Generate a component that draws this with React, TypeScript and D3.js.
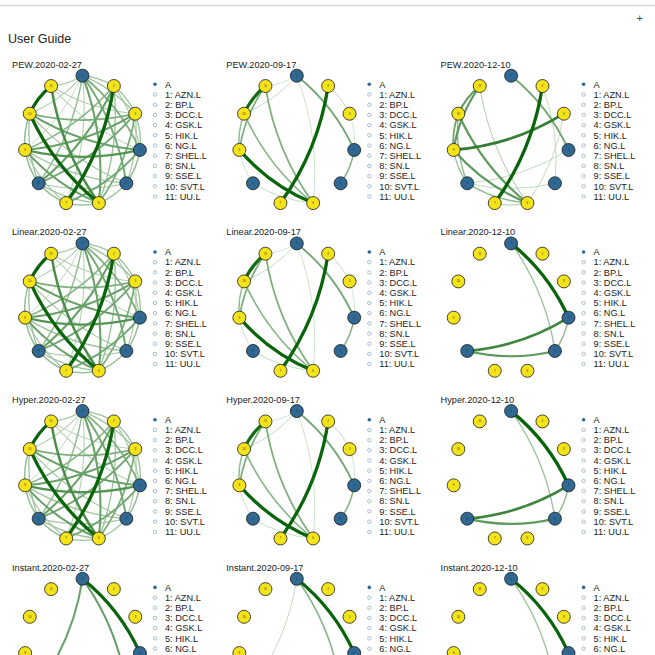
import React from "react";
import * as d3 from "d3";

// ---------- data ----------
const NODE_NAMES = ["AZN.L", "BP.L", "DCC.L", "GSK.L", "HIK.L", "NG.L", "SHEL.L", "SN.L", "SSE.L", "SVT.L", "UU.L"];
const GROUP_A = [1, 4, 5, 8];
const LEGEND_GROUP = "A";

const PANEL_TITLES = [
  "PEW.2020-02-27", "PEW.2020-09-17", "PEW.2020-12-10",
  "Linear.2020-02-27", "Linear.2020-09-17", "Linear.2020-12-10",
  "Hyper.2020-02-27", "Hyper.2020-09-17", "Hyper.2020-12-10",
  "Instant.2020-02-27", "Instant.2020-09-17", "Instant.2020-12-10",
];

type Edge = [number, number, number];

const EDGES_DENSE: Edge[] = [
  [11, 10, 1.0], [10, 6, 1.0], [2, 7, 1.0], [11, 6, 0.7], [9, 4, 0.65], [10, 4, 0.55],
  [9, 3, 0.55], [1, 6, 0.55], [1, 5, 0.5], [2, 8, 0.55], [3, 8, 0.5], [9, 6, 0.55],
  [4, 7, 0.5], [3, 6, 0.45], [3, 10, 0.45], [1, 4, 0.45], [2, 9, 0.4], [1, 8, 0.35],
  [2, 6, 0.3], [1, 2, 0.3], [1, 3, 0.3], [1, 11, 0.25], [2, 3, 0.3], [3, 4, 0.3],
  [4, 5, 0.35], [5, 6, 0.3], [6, 7, 0.3], [7, 8, 0.35], [8, 9, 0.35], [9, 10, 0.35],
  [10, 8, 0.3], [5, 9, 0.3], [5, 10, 0.25], [4, 11, 0.2], [3, 11, 0.2], [1, 7, 0.2],
  [1, 9, 0.15], [1, 10, 0.2], [7, 9, 0.25], [6, 8, 0.3], [5, 8, 0.25], [3, 5, 0.25], [2, 4, 0.25],
];
const EDGES_SEP: Edge[] = [
  [2, 7, 1.0], [9, 6, 1.0], [11, 10, 0.95], [1, 4, 0.5], [4, 5, 0.4], [11, 6, 0.45],
  [10, 6, 0.4], [11, 9, 0.45], [10, 9, 0.35], [1, 10, 0.15], [1, 6, 0.12], [2, 3, 0.15],
  [8, 6, 0.15], [9, 8, 0.12], [3, 4, 0.1], [1, 11, 0.1],
];
const EDGES_PEW_DEC: Edge[] = [
  [2, 7, 1.0], [9, 3, 0.8], [11, 10, 0.6], [11, 9, 0.6], [10, 9, 0.5], [10, 8, 0.35],
  [10, 6, 0.6], [9, 6, 0.6], [1, 4, 0.5], [11, 6, 0.2], [8, 4, 0.15], [8, 6, 0.35],
  [2, 5, 0.15], [3, 6, 0.15], [8, 5, 0.15], [9, 8, 0.3], [7, 6, 0.2],
];
const EDGES_DEC: Edge[] = [[1, 4, 1.0], [1, 5, 0.3], [8, 4, 0.75], [8, 5, 0.6], [4, 5, 0.35]];
const EDGES_INST_FEB: Edge[] = [[1, 4, 1.0], [1, 8, 0.55], [1, 5, 0.55]];
const EDGES_INST_SEP: Edge[] = [[1, 4, 1.0], [1, 5, 0.4], [1, 8, 0.15]];
const EDGES_INST_DEC: Edge[] = [[1, 4, 1.0], [1, 5, 0.3]];

const PANEL_EDGES: Edge[][] = [
  EDGES_DENSE, EDGES_SEP, EDGES_PEW_DEC,
  EDGES_DENSE, EDGES_SEP, EDGES_DEC,
  EDGES_DENSE, EDGES_SEP, EDGES_DEC,
  EDGES_INST_FEB, EDGES_INST_SEP, EDGES_INST_DEC,
];

// ---------- layout ----------
const W = 655, H = 655;
const PANEL_DX = 214.3, PANEL_DY = 167.7;
const CX0 = 82.5, CY0 = 140.7, RX = 58, RY = 65;
const NODE_R = 6.5;
const FONT = "'Liberation Sans', Arial, Helvetica, sans-serif";

const angle = d3.scaleLinear().domain([0, NODE_NAMES.length]).range([-Math.PI / 2, 1.5 * Math.PI]);
const widthScale = d3.scaleLinear().domain([0, 1]).range([0.5, 3.3]);
const colorScale = d3.scaleLinear<string>().domain([0, 1]).range(["#dbecdb", "#0a640a"]).interpolate(d3.interpolateRgb);

function Panel({ idx }: { idx: number }) {
  const col = idx % 3, row = Math.floor(idx / 3);
  const ox = col * PANEL_DX, oy = row * PANEL_DY;
  const xs = d3.scaleLinear().domain([-1, 1]).range([CX0 - RX, CX0 + RX]);
  const ys = d3.scaleLinear().domain([-1, 1]).range([CY0 - RY, CY0 + RY]);
  const pos = (n: number) => {
    const a = angle(n - 1);
    return { x: xs(Math.cos(a)), y: ys(Math.sin(a)) };
  };
  const edges = [...PANEL_EDGES[idx]].sort((a, b) => a[2] - b[2]);
  const edgePath = (e: Edge) => {
    const i = Math.min(e[0], e[1]), j = Math.max(e[0], e[1]);
    const p = pos(i), q = pos(j);
    const dx = q.x - p.x, dy = q.y - p.y;
    const k = 0.12;
    const path = d3.path();
    path.moveTo(p.x, p.y);
    path.quadraticCurveTo((p.x + q.x) / 2 + k * dy, (p.y + q.y) / 2 - k * dx, q.x, q.y);
    return path.toString();
  };
  return (
    <g transform={`translate(${ox},${oy})`}>
      <text x={12} y={67.5} fontSize={9.2} fill="#222" fontFamily={FONT}>{PANEL_TITLES[idx]}</text>
      <g>
        {edges.map((e, k) => (
          <path key={k} d={edgePath(e)} fill="none" stroke={colorScale(e[2])} strokeWidth={widthScale(e[2])} strokeLinecap="round" />
        ))}
      </g>
      <g>
        {NODE_NAMES.map((_, i) => {
          const p = pos(i + 1);
          const isA = GROUP_A.includes(i + 1);
          return (
            <g key={i}>
              <circle cx={p.x} cy={p.y} r={NODE_R} fill={isA ? "#2f6892" : "#f5e31a"} stroke="#1b1b1b" strokeWidth={0.8} />
              <text x={p.x} y={p.y + 1} fontSize={3} textAnchor="middle" fill="#333" fontFamily={FONT}>{i + 1}</text>
            </g>
          );
        })}
      </g>
      <g fontFamily={FONT} fontSize={9.2} fill="#222">
        <circle cx={155} cy={84.3} r={1.8} fill="#2f6892" />
        <text x={165} y={87.5}>{LEGEND_GROUP}</text>
        {NODE_NAMES.map((nm, i) => (
          <g key={nm}>
            <circle cx={155} cy={84.3 + (i + 1) * 10.2} r={1.7} fill="#fff" stroke="#9fb4c9" strokeWidth={0.9} />
            <text x={165} y={87.5 + (i + 1) * 10.2}>{`${i + 1}: ${nm}`}</text>
          </g>
        ))}
      </g>
    </g>
  );
}

export default function App() {
  return (
    <svg width={W} height={H} style={{ position: "absolute", left: 0, top: 0, background: "#fff" }}>
      <rect x={0} y={0} width={W} height={H} fill="#fff" />
      <line x1={0} x2={W} y1={5.5} y2={5.5} stroke="#d8d8d8" strokeWidth={1.5} />
      <text x={636.5} y={22} fontSize={11} fill="#444" fontFamily={FONT}>+</text>
      <text x={8} y={42.5} fontSize={12.5} fill="#222" fontFamily={FONT}>User Guide</text>
      {PANEL_TITLES.map((_, i) => <Panel key={i} idx={i} />)}
    </svg>
  );
}
